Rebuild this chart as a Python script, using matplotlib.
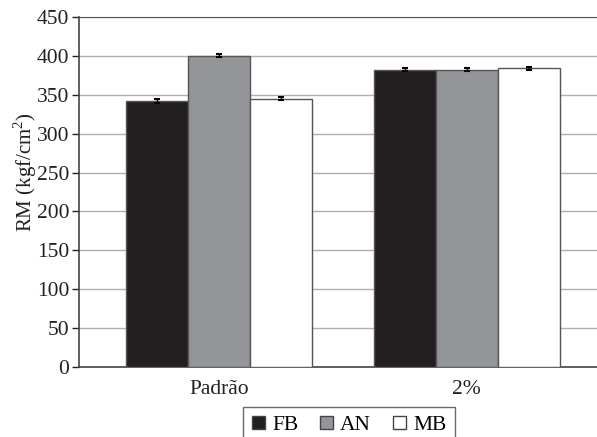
import numpy as np
import matplotlib.pyplot as plt
from matplotlib.patches import Patch

plt.rcParams['font.family'] = ['Liberation Serif', 'DejaVu Serif']
plt.rcParams['mathtext.fontset'] = 'custom'
plt.rcParams['mathtext.rm'] = 'Liberation Serif'

# data
groups = ['Padrão', '2%']
series = ['FB', 'AN', 'MB']
values = {
    'FB': [342, 382],
    'AN': [400, 382],
    'MB': [345, 384],
}
errors = {
    'FB': [3, 2],
    'AN': [2, 2],
    'MB': [2, 1.5],
}
colors = {'FB': '#231f20', 'AN': '#939598', 'MB': '#ffffff'}

fig = plt.figure(figsize=[5.97, 4.37], dpi=100)
ax = fig.add_axes([79/597, 1 - 367/437, 1 - 79/597 + 0.01, 350/437])

x = np.arange(len(groups))
width = 0.25
for k, s in enumerate(series):
    ax.bar(x + (k - 1)*width, values[s], width, color=colors[s],
           edgecolor='#555555', linewidth=1.0, zorder=3,
           yerr=errors[s], capsize=2.5,
           error_kw=dict(ecolor='black', elinewidth=1, capthick=1.5, zorder=4))

ax.set_ylim(0, 450)
ax.set_yticks(np.arange(0, 451, 50))
ax.set_xlim(-140/247, (597 - 219)/247 + 0.02)
ax.set_xticks(x)
ax.set_xticklabels(groups)
ax.tick_params(axis='x', length=0, labelsize=15.5, pad=9, colors='#222222')
ax.tick_params(axis='y', direction='out', length=5, width=1, labelsize=15.5,
               colors='#222222', pad=2)
ax.grid(axis='y', color='#b0b0b0', linewidth=1, zorder=0)
ax.spines['right'].set_visible(False)
ax.spines['top'].set_color('#555555')
ax.spines['left'].set_color('#444444')
ax.spines['bottom'].set_color('#444444')
ax.spines['left'].set_linewidth(1.2)
ax.spines['bottom'].set_linewidth(1.2)
ax.set_ylabel('RM (kgf/cm$^{\\mathrm{2}}$)', fontsize=15, color='#222222')
ax.yaxis.set_label_coords(-0.076, 0.557)

handles = [Patch(facecolor=colors[s], edgecolor='#444444', label=s) for s in series]
fig.legend(handles=handles, loc='lower center', bbox_to_anchor=(349/597, -0.04),
           ncol=3, frameon=True, fancybox=False, edgecolor='#444444',
           fontsize=15.5, handlelength=0.6, handleheight=0.6, handletextpad=0.35,
           columnspacing=1.0, borderpad=0.4)

fig.savefig('out.png', dpi=100)
